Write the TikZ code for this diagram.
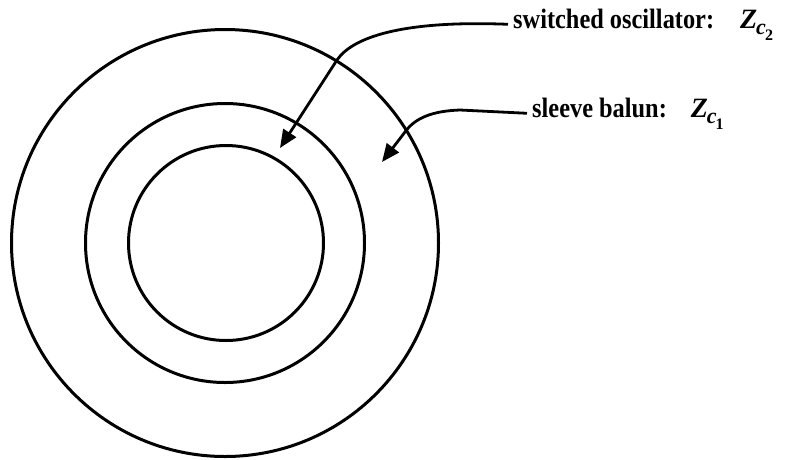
\documentclass[tikz,border=0pt]{standalone}
\usepackage{fontspec}
\setmainfont{Liberation Serif}
\usetikzlibrary{arrows.meta}
\tikzset{
  ring/.style={circle, draw, line width=3pt, inner sep=0pt},
  lbl/.style={font=\fontsize{28}{30}\selectfont\bfseries, inner xsep=5pt, inner ysep=0pt, anchor=base west},
  pointer/.style={line width=2.8pt, -{Triangle[length=18pt,width=15pt]}}
}
\newcommand{\zsub}[1]{\textit{Z}\kern-1pt\raisebox{-6pt}{\fontsize{22}{24}\selectfont\textit{c}}\kern-1pt\raisebox{-12pt}{\fontsize{16}{18}\selectfont #1}}
\begin{document}
\begin{tikzpicture}[x=1pt,y=-1pt]
\useasboundingbox (0,0) rectangle (790,459);
\node[ring, minimum size=427pt] (outer) at (225,243) {};
\node[ring, minimum size=279pt] (middle) at (225,243) {};
\node[ring, minimum size=195pt] (inner) at (226,243) {};
\node[lbl] (so) at (508,28) {\scalebox{0.87}[1]{switched oscillator:}\hspace{26pt}\zsub{2}};
\node[lbl] (sb) at (527,117) {\scalebox{0.87}[1]{sleeve balun:}\hspace{24pt}\zsub{1}};
\coordinate (t1) at (280,148);
\coordinate (t2) at (382,162);
\draw[pointer] (so.west) .. controls (400,20) and (352,38) .. (337,60) -- (t1);
\draw[pointer] (sb.west) -- (460,110) .. controls (432,111) and (415,118) .. (405,132) -- (t2);
\end{tikzpicture}
\end{document}
